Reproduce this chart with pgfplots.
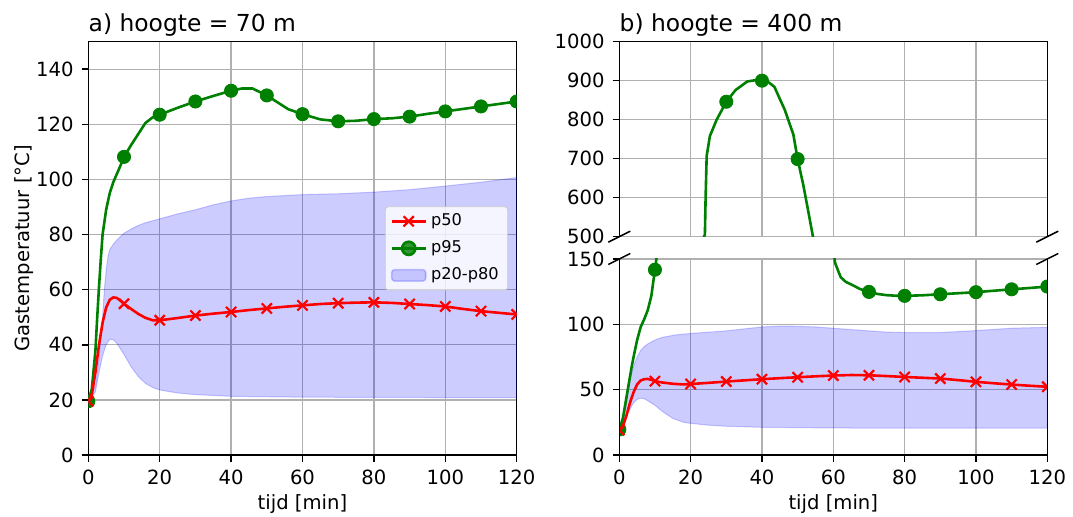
\documentclass[border=0pt]{standalone}
\usepackage{fontspec}
\setmainfont{DejaVu Sans}
\usepackage{pgfplots}
\pgfplotsset{compat=1.18}
\definecolor{mplgreen}{rgb}{0,0.5,0}
\definecolor{gridgray}{HTML}{B0B0B0}
\newcommand{\tickfont}{\fontsize{9.8}{11}\selectfont}
\newcommand{\titlefont}{\fontsize{11.7}{13}\selectfont}
\newcommand{\legfont}{\fontsize{8.1}{9.5}\selectfont}

% ---------- data: panel a (70 m) ----------
\pgfplotstableread{
x y
0 19.5
1 22
2 30
3 40
4 48
5 53.5
6 56.3
7 57.2
8 57
9 56
10 54.9
12 53
14 51.2
16 49.8
18 48.9
20 48.9
25 49.7
30 50.6
35 51.3
40 51.9
45 52.6
50 53.2
55 53.8
60 54.3
65 54.8
70 55.1
75 55.3
80 55.4
85 55.2
90 54.8
95 54.4
100 53.9
105 53
110 52.2
115 51.6
120 51
}\aPfifty
\pgfplotstableread{
x y
0 19.5
10 54.9
20 48.9
30 50.6
40 51.9
50 53.2
60 54.3
70 55.1
80 55.4
90 54.8
100 53.9
110 52.2
120 51
}\aPfiftyM
\pgfplotstableread{
x y
0 19.5
1 24
2 38
2.5 50
3 61
3.5 71
4 80
5 89
6 95
7 99
8 102
9 105
10 108.2
12 112.5
14 116.5
16 120.5
18 122.5
20 123.5
25 126
30 128.3
35 130.3
40 132.2
43 133
46 133
50 130.5
53 128
56 125.5
60 123.7
65 121.8
70 121.1
75 121.3
80 121.9
85 122.2
90 122.8
95 123.8
100 124.7
105 125.6
110 126.5
115 127.4
120 128.3
}\aPninety
\pgfplotstableread{
x y
0 19.5
10 108.2
20 123.5
30 128.3
40 132.2
50 130.5
60 123.7
70 121.1
80 121.9
90 122.8
100 124.7
110 126.5
120 128.3
}\aPninetyM
% band polygon: upper (forward) then lower (backward)
\pgfplotstableread{
x y
0 20
2 25
3 35
4 50
4.5 60
5 67
5.5 72
6 74.5
7 76.5
8 78
10 80.5
12 82
14 83.3
16 84.3
20 85.7
25 87.5
30 89
35 90.8
40 92.2
45 93.2
50 93.8
60 94.5
70 94.8
80 95.4
90 96.3
100 97.6
110 99
120 100.7
120 20.8
80 20.9
60 21
40 21.3
30 21.9
25 22.5
20 23.6
18 24.5
16 26
14 28.5
12 32
10 36.5
8 40.5
7 41.8
6 42
5 40
4 36
3 30
2 23
0 19
}\aBand

% ---------- data: panel b (400 m) ----------
\pgfplotstableread{
x y
0 19
1 22
2 30
3 40
4 48
5 54
6 57
7 58
8 58.2
9 57.5
10 56.5
12 55.5
15 54.5
18 54
20 54.3
25 55.2
30 56.2
35 57.1
40 58
45 58.8
50 59.5
55 60.2
60 60.8
65 61.2
70 61
75 60.4
80 59.7
85 59.1
90 58.5
95 57.3
100 56
105 54.9
110 53.9
115 53
120 52.2
}\bPfifty
\pgfplotstableread{
x y
0 19
10 56.5
20 54.3
30 56.2
40 58
50 59.5
60 60.8
70 61
80 59.7
90 58.5
100 56
110 53.9
120 52.2
}\bPfiftyM
\pgfplotstableread{
x y
0 19.5
1 28
2 44
3 60
3.5 68
4 75
5 88
6 98
7 104
8 111
9 122
9.5 132
10 141.8
10.5 152
12 200
15 290
18 370
21 440
23 485
24 505
24.2 600
24.5 707
25.4 758
27.3 800
30 846
32.6 876
35.9 898
38 901
40 900
42 895
43.5 884
46.4 825
48.8 762
50 699
51.6 632
53 564
54.3 500
55.5 400
57 300
58.5 220
59.5 172
60 158
60.5 147
61.5 140
62.1 136
63.5 132.5
65.4 130
67.5 127
70 124.8
72.5 123.2
75 122.3
77.5 121.9
80 121.8
85 122.2
90 123
95 123.8
100 124.6
105 125.7
110 126.8
115 127.8
120 128.9
}\bPninety
\pgfplotstableread{
x y
0 19.5
10 141.8
20 417
30 846
40 900
50 699
60 158
70 124.8
80 121.8
90 123
100 124.6
110 126.8
120 128.9
}\bPninetyM
\pgfplotstableread{
x y
0 19
1 25
2 40
3 58
4 68
5 75
6 80
7 83
8 85
10 88
12 90
16 92
20 93
25 94
30 95
35 96.5
40 98
45 98.6
50 98.5
55 98
60 97
65 96
70 95
75 94
80 93.7
90 93.7
100 95.2
110 97
120 97.7
120 20.5
80 20.5
60 20.7
40 21.2
30 22
25 22.8
20 24.2
18 25
15 28
12 33.5
10 38
8 41.5
7 43
6 43.5
5 42.5
4 40
2 30
0 17
}\bBand

\pgfplotsset{
  mpl/.style={
    scale only axis,
    xmin=0, xmax=120,
    xtick={0,20,...,120},
    grid=major,
    major grid style={gridgray, line width=0.65pt},
    tick align=outside,
    tick pos=left,
    major tick length=3.3pt,
    every tick/.style={black, line width=0.75pt},
    axis line style={line width=0.75pt},
    tick label style={font=\tickfont},
    label style={font=\tickfont},
    /pgf/number format/assume math mode=true,
    /pgf/number format/1000 sep={},
    yticklabel style={inner sep=0pt, anchor=east, xshift=-3.85pt},
    xticklabel style={inner sep=0pt, anchor=north, yshift=-4.2pt},
    clip marker paths=true,
    title style={font=\titlefont, inner sep=0pt, anchor=base west, at={(axis description cs:0,1)}, yshift=-1pt},
  },
  p50line/.style={red, line width=1.3pt, no marks},
  p50mark/.style={red, only marks, mark=x, mark size=3.6pt, mark options={line width=1.1pt}},
  p95line/.style={mplgreen, line width=1.3pt, no marks},
  p95mark/.style={mplgreen, only marks, mark=*, mark size=3.3pt, mark options={draw=mplgreen, fill=mplgreen}},
  bandstyle/.style={fill=blue, fill opacity=0.2, draw=blue, draw opacity=0.2, line width=0.5pt},
}

\begin{document}
\begin{tikzpicture}
\path[use as bounding box] (0,0) rectangle (536.5pt,258.5pt);

% ----- panel a -----
\begin{axis}[mpl,
  at={(44.15pt,31pt)}, anchor=south west,
  width=214.2pt, height=206.65pt,
  ymin=0, ymax=150, ytick={0,20,...,140},
  title={a) hoogte = 70 m},
  xlabel={tijd [min]},
  ylabel={Gastemperatuur [°C]},
  xlabel style={at={(axis description cs:0.5,-0.1331)}, anchor=base, inner sep=0pt},
  ylabel style={at={(axis description cs:-0.1373,0.5)}, anchor=base, rotate=0, inner sep=0pt},
  legend style={font=\legfont, at={(axis description cs:0.98,0.5)}, anchor=east,
    draw=black!20, rounded corners=1.5pt, fill=white, fill opacity=0.8, text opacity=1,
    inner xsep=2.5pt, inner ysep=1.5pt, row sep=2pt},
  legend cell align=left,
]
\addplot[bandstyle, forget plot] table {\aBand} -- cycle;
\addplot[p95line, forget plot] table {\aPninety};
\addplot[p95mark, forget plot] table {\aPninetyM};
\addplot[p50line, forget plot] table {\aPfifty};
\addplot[p50mark, forget plot] table {\aPfiftyM};
\addlegendimage{red, line width=1.3pt, mark=x, mark size=3.6pt, mark options={line width=1.1pt}}
\addlegendentry{p50}
\addlegendimage{mplgreen, line width=1.3pt, mark=*, mark size=3.3pt}
\addlegendentry{p95}
\addlegendimage{area legend, fill=blue, fill opacity=0.2, draw=blue, draw opacity=0.2, line width=0.8pt}
\addlegendentry{p20-p80}
\end{axis}

% ----- panel b, top part -----
\begin{axis}[mpl, name=btop,
  at={(309.65pt,140.15pt)}, anchor=south west,
  width=214pt, height=97.5pt,
  ymin=500, ymax=1000, ytick={500,600,...,1000},
  xticklabels={}, xtick style={draw=none},
  axis line style={draw=none},
  title={b) hoogte = 400 m},
]
\addplot[p95line] table {\bPninety};
\addplot[p95mark] table {\bPninetyM};
\end{axis}

% ----- panel b, bottom part -----
\begin{axis}[mpl, name=bbot,
  at={(309.65pt,31pt)}, anchor=south west,
  width=214pt, height=98pt,
  ymin=0, ymax=150, ytick={0,50,100,150},
  axis line style={draw=none},
  xlabel={tijd [min]},
  xlabel style={at={(axis description cs:0.5,-0.2806)}, anchor=base, inner sep=0pt},
]
\addplot[bandstyle] table {\bBand} -- cycle;
\addplot[p95line] table {\bPninety};
\addplot[p95mark] table {\bPninetyM};
\addplot[p50line] table {\bPfifty};
\addplot[p50mark] table {\bPfiftyM};
\end{axis}

% spines and break marks
\draw[line width=0.75pt, black] (btop.south west) -- (btop.north west) -- (btop.north east) -- (btop.south east);
\draw[line width=0.75pt, black] (bbot.north west) -- (bbot.south west) -- (bbot.south east) -- (bbot.north east);
\foreach \c in {btop.south west, btop.south east, bbot.north west, bbot.north east}{
  \draw[line width=0.75pt, black] ([shift={(-5.5pt,-2.75pt)}]\c) -- ++(11pt,5.5pt);
}
\end{tikzpicture}
\end{document}
